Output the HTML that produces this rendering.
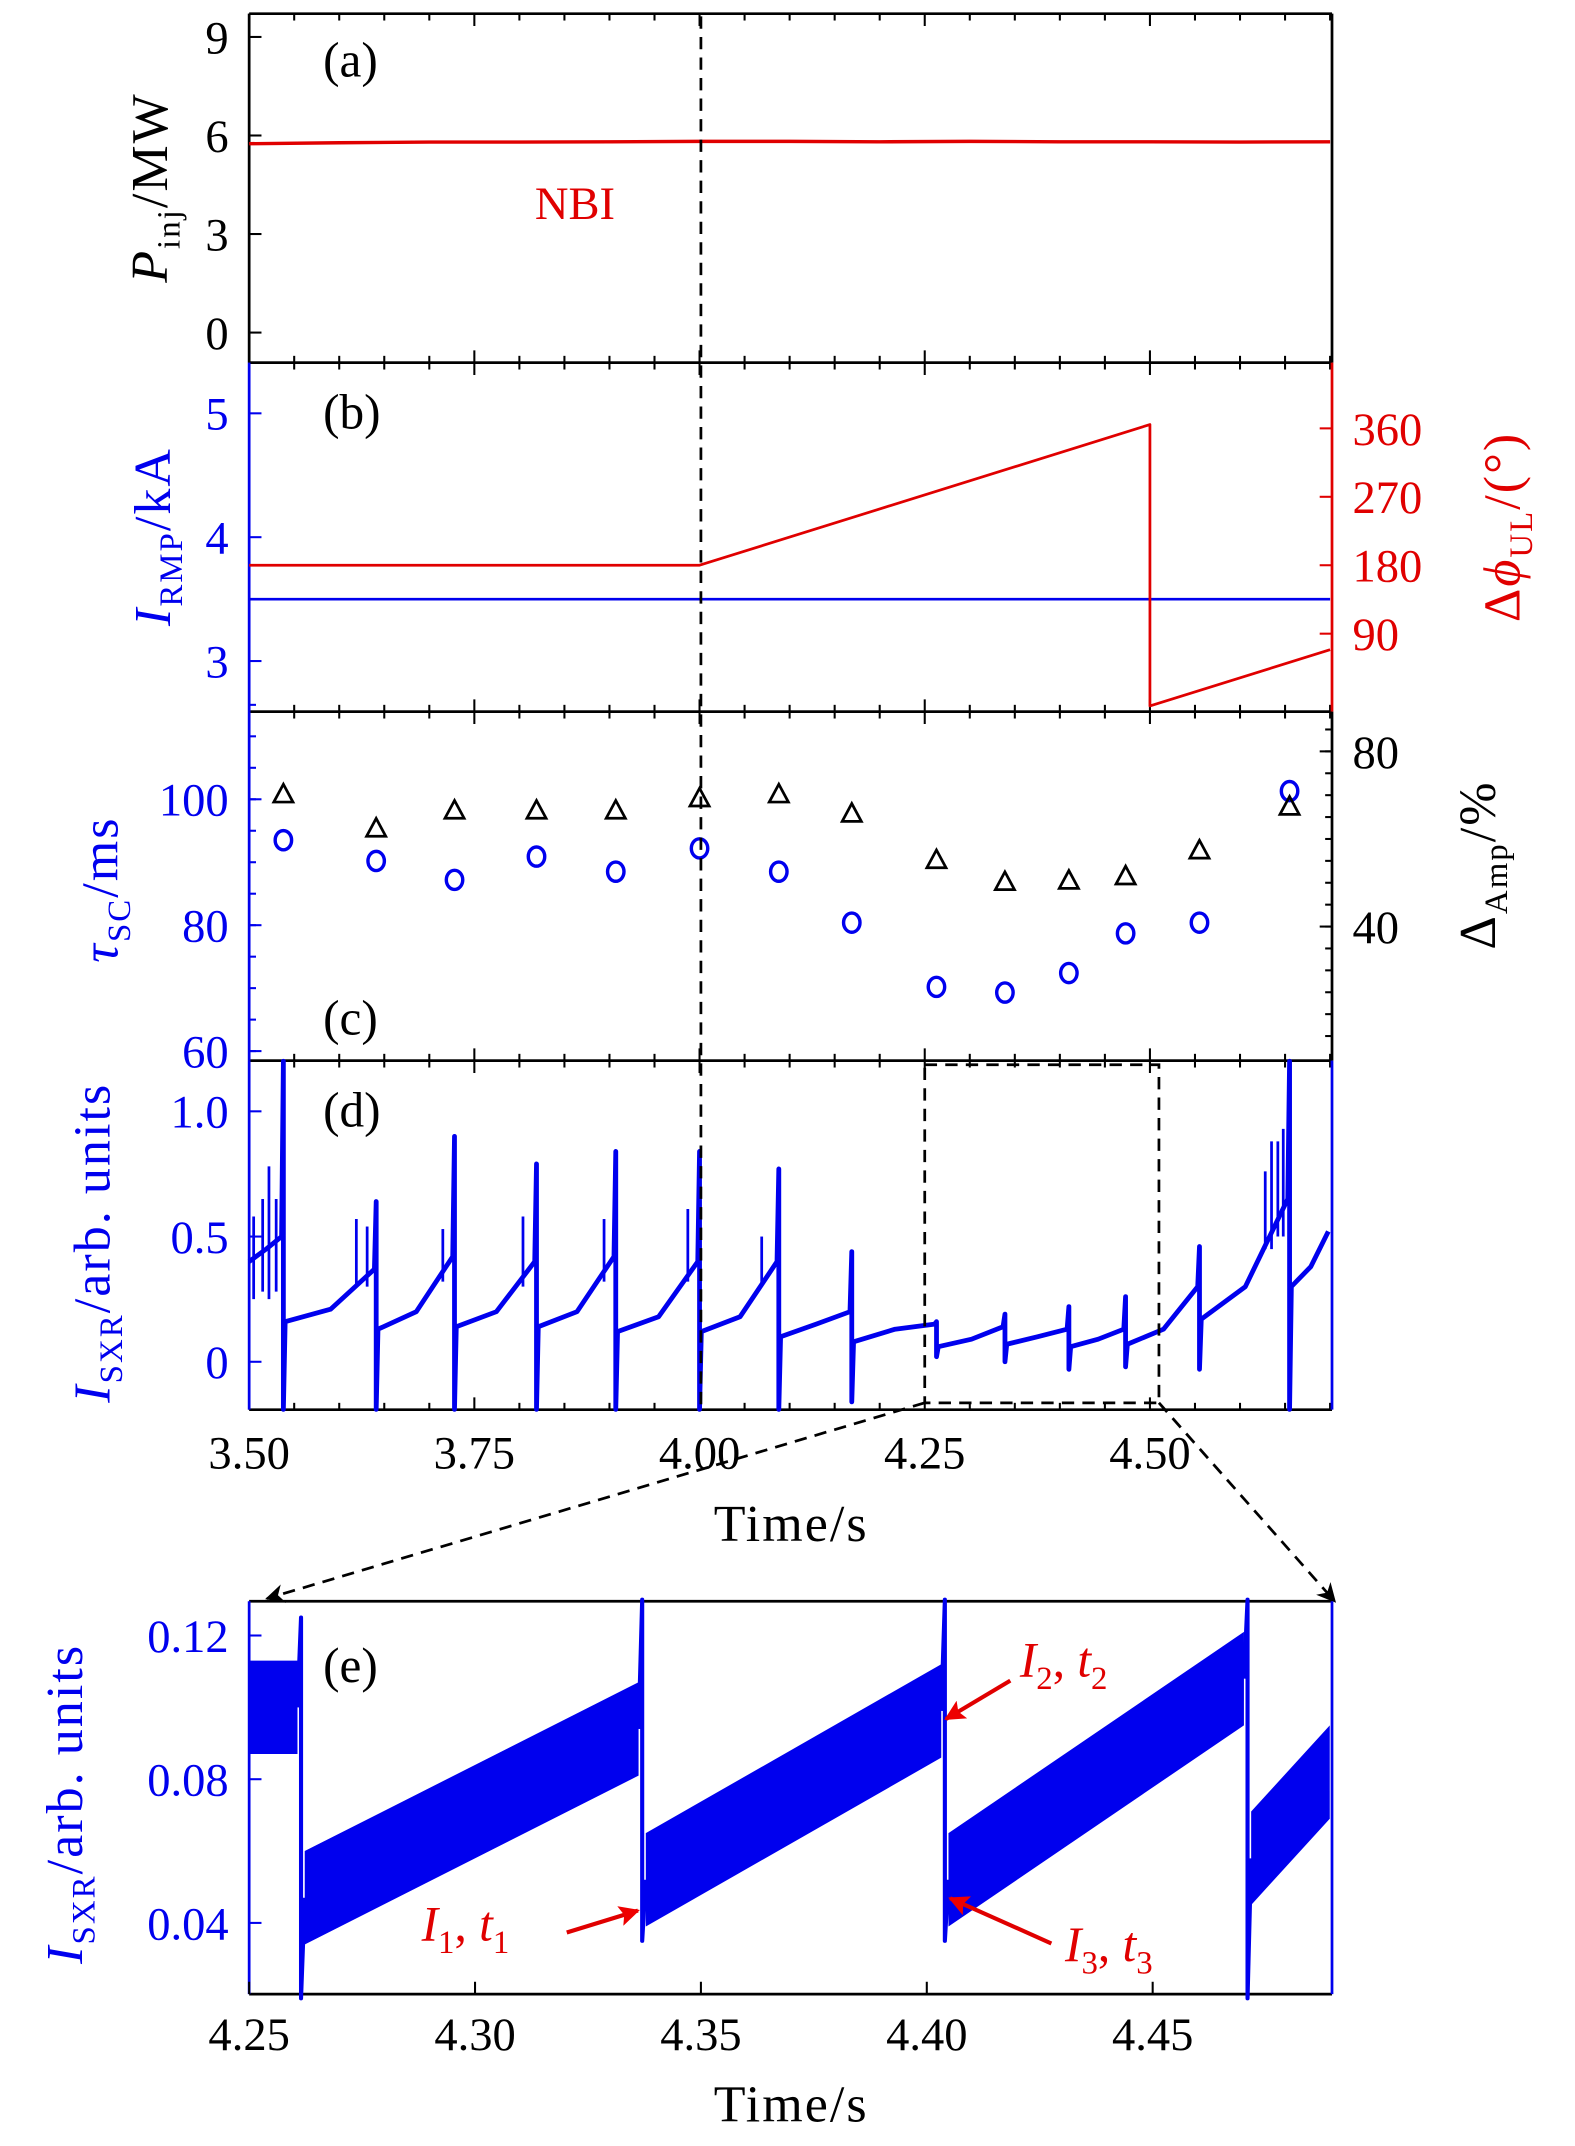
<!DOCTYPE html>
<html><head><meta charset="utf-8"><title>RMP sawtooth figure</title>
<style>html,body{margin:0;padding:0;background:#fff}svg{display:block}text{font-family:"Liberation Serif",serif}</style>
</head><body>
<svg id="fig" xmlns="http://www.w3.org/2000/svg" width="1575" height="2146" viewBox="0 0 1150.5 1568" preserveAspectRatio="none">
<defs>
<marker id="ah" viewBox="0 0 10 10" refX="9" refY="5" markerWidth="7" markerHeight="7" orient="auto"><path d="M0,0 L10,5 L0,10 L3,5 z" fill="#000"/></marker>
<marker id="ahr" viewBox="0 0 10 10" refX="9" refY="5" markerWidth="5" markerHeight="5" orient="auto"><path d="M0,0 L10,5 L0,10 L2,5 z" fill="#e00"/></marker>
</defs>
</svg>
<script>
// ---- data ----
const nbiTimes = [3.5,3.6,3.7,3.8,3.9,4.0,4.1,4.2,4.3,4.4,4.5,4.6,4.7];
const nbiPower = [5.75,5.78,5.8,5.8,5.81,5.82,5.82,5.81,5.82,5.81,5.81,5.8,5.81];
const rmpTimes = [3.5,4.7];
const rmpCurrent = [3.5,3.5];
const phaseTimes = [3.5,4.0,4.5,4.5,4.7];
const phaseValues = [180,180,365,-5,69];
const scTimes = [3.538,3.641,3.728,3.819,3.907,4.000,4.088,4.169,4.263,4.339,4.410,4.473,4.555,4.655];
const tauSC = [93.5,90.2,87.2,90.9,88.5,92.2,88.5,80.4,70.2,69.3,72.4,78.7,80.4,101.3];
const dAmp = [70.3,62.5,66.6,66.6,66.6,69.4,70.3,65.9,55.3,50.3,50.6,51.6,57.5,67.5];
const dCrash = [3.538,3.641,3.728,3.819,3.907,4.000,4.088,4.169,4.263,4.339,4.410,4.473,4.555,4.655];
const dStart = [0.40,0.16,0.13,0.14,0.14,0.12,0.12,0.10,0.08,0.06,0.07,0.06,0.07,0.17,0.30];
const dMid = [0.45,0.21,0.20,0.20,0.20,0.18,0.18,0.15,0.13,0.09,0.10,0.09,0.13,0.30,0.38];
const dEnd = [0.50,0.37,0.42,0.40,0.42,0.40,0.40,0.20,0.15,0.14,0.13,0.13,0.30,0.65,0.52];
const dPeak = [1.2,0.64,0.9,0.79,0.84,0.84,0.77,0.44,0.16,0.19,0.22,0.26,0.46,1.2];
const dMin = [-0.19,-0.19,-0.19,-0.19,-0.19,-0.19,-0.19,-0.16,0.02,0.0,-0.03,-0.02,-0.03,-0.19];
const preTimes = [3.505,3.515,3.522,3.530,3.619,3.631,3.715,3.804,3.894,3.987,4.069,4.628,4.635,4.642,4.648];
const preBase = [0.25,0.28,0.25,0.28,0.30,0.30,0.32,0.30,0.32,0.32,0.30,0.45,0.45,0.5,0.5];
const prePeak = [0.58,0.65,0.78,0.65,0.57,0.54,0.53,0.58,0.57,0.61,0.50,0.76,0.88,0.88,0.93];
const eCrash = [4.2615,4.337,4.404,4.471];
const eStart = [0.100,0.047,0.052,0.052,0.058];
const eEnd = [0.100,0.094,0.099,0.108,0.082];
const ePeak = [0.125,0.13,0.13,0.13];
const eMin = [0.019,0.035,0.035,0.019];
const xTicks = [3.50,3.75,4.00,4.25,4.50];
const eTicks = [4.25,4.30,4.35,4.40,4.45];

// ---- geometry ----
const svg = document.getElementById('fig');
const NS = 'http://www.w3.org/2000/svg';
const L = 182, R = 973;
const X = t => 182 + (t - 3.5) * 658;
const XE = t => 182 + (t - 4.25) * 3300;
const Ya = v => 243 - v * 24;
const Yb = v => 483 - (v - 3) * 90.5;
const Yb2 = v => 413 - (v - 180) * 0.5556;
const Yc = v => 768 - (v - 60) * 4.6;
const Yc2 = v => 677 - (v - 40) * 3.2;
const Yd = v => 995 - v * 183;
const Ye = v => 1405 - (v - 0.04) * 2625;
const BLUE = '#0000ee', RED = '#e00000';
const TF = 34, AF = 38;

function add(tag, attrs, name, inter) {
  const el = document.createElementNS(NS, tag);
  for (const k in attrs) el.setAttribute(k, attrs[k]);
  
  
  svg.appendChild(el);
  return el;
}
function line(x1,y1,x2,y2,c,w,name,dash){
  const a={x1,y1,x2,y2,stroke:c,'stroke-width':w};
  if(dash)a['stroke-dasharray']=dash;
  return add('line',a,name);
}
function txt(x,y,s,opts,name){
  const a=Object.assign({x,y,'font-size':TF,fill:'#000'},opts||{});
  const el=add('text',a,name);
  el.innerHTML=s;
  return el;
}
function poly(pts,c,w,name){
  return add('polyline',{points:pts.map(p=>p[0].toFixed(1)+','+p[1].toFixed(1)).join(' '),fill:'none',stroke:c,'stroke-width':w,'stroke-linejoin':'round'},name);
}
function sub(s){return `<tspan font-size="24" dy="9">${s}</tspan>`;}

// ---- panel frames ----
const panels=[[10,265],[265,520],[520,775],[775,1030]];
panels.forEach((p,i)=>{
  line(L,p[0],R,p[0],'#000',2,'panel-top-spine');
  line(L,p[1],R,p[1],'#000',2,'panel-bottom-spine');
  for(let t=3.5;t<=4.701;t+=0.05){
    const major=Math.abs((t-3.5)/0.25-Math.round((t-3.5)/0.25))<1e-6;
    const len=major?9:5;
    line(X(t),p[1],X(t),p[1]-len,'#000',1.5,'x-tick');
    line(X(t),p[0],X(t),p[0]+len,'#000',1.5,'x-tick');
  }
});
line(L,10,L,265,'#000',2,'a-left-spine'); line(R,10,R,265,'#000',2,'a-right-spine');
line(L,265,L,520,BLUE,2,'b-left-spine'); line(R,265,R,520,RED,2,'b-right-spine');
line(L,520,L,775,BLUE,2,'c-left-spine'); line(R,520,R,775,'#000',2,'c-right-spine');
line(L,775,L,1030,BLUE,2,'d-left-spine'); line(R,775,R,1030,BLUE,2,'d-right-spine');

// ---- panel a ----
[0,3,6,9].forEach(v=>{line(L,Ya(v),L+9,Ya(v),'#000',1.5,'a-y-tick');txt(167,Ya(v)+12,v,{'text-anchor':'end'},'a-y-tick-label');});
poly(nbiTimes.map((t,i)=>[X(t),Ya(nbiPower[i])]),RED,2.5,'nbi-power-line');
txt(420,160,'NBI',{fill:RED,'text-anchor':'middle'},'nbi-label');
txt(236,56,'(a)',{'font-size':36},'panel-a-label');
txt(0,0,'<tspan font-style="italic">P</tspan>'+sub('inj')+'<tspan dy="-9">/MW</tspan>',{transform:'translate(122,137) rotate(-90)','text-anchor':'middle','font-size':AF,'letter-spacing':1.5}, 'a-y-axis-title');

// ---- panel b ----
[3,4,5].forEach(v=>{line(L,Yb(v),L+9,Yb(v),BLUE,1.5,'b-y-tick');txt(167,Yb(v)+12,v,{'text-anchor':'end',fill:BLUE},'b-y-tick-label');});
[90,180,270,360].forEach(v=>{line(R,Yb2(v),R-9,Yb2(v),RED,1.5,'b-right-tick');txt(988,Yb2(v)+12,v,{fill:RED},'b-right-tick-label');});
poly(rmpTimes.map((t,i)=>[X(t),Yb(rmpCurrent[i])]),BLUE,2,'rmp-current-line');
poly(phaseTimes.map((t,i)=>[X(t),Yb2(phaseValues[i])]),RED,2,'phase-difference-line');
txt(236,313,'(b)',{'font-size':36},'panel-b-label');
txt(0,0,'<tspan font-style="italic">I</tspan>'+sub('RMP')+'<tspan dy="-9">/kA</tspan>',{transform:'translate(124,392) rotate(-90)','text-anchor':'middle',fill:BLUE,'font-size':AF,'letter-spacing':1.5},'b-y-axis-title');
txt(0,0,'Δ<tspan font-style="italic">ϕ</tspan>'+sub('UL')+'<tspan dy="-9">/(°)</tspan>',{transform:'translate(1110,385) rotate(-90)','text-anchor':'middle',fill:RED,'font-size':AF,'letter-spacing':1.5},'b-right-axis-title');

// ---- panel c ----
[60,80,100].forEach(v=>{line(L,Yc(v),L+9,Yc(v),BLUE,1.5,'c-y-tick');txt(167,Yc(v)+12,v,{'text-anchor':'end',fill:BLUE},'c-y-tick-label');});
for(let v=60;v<=115;v+=5){line(L,Yc(v),L+5,Yc(v),BLUE,1.5,'c-y-minor-tick');}
[40,80].forEach(v=>{line(R,Yc2(v),R-9,Yc2(v),'#000',1.5,'c-right-tick');txt(988,Yc2(v)+12,v,{},'c-right-tick-label');});
for(let v=15;v<=85;v+=5){line(R,Yc2(v),R-5,Yc2(v),'#000',1.5,'c-right-minor-tick');}
scTimes.forEach((t,i)=>{
  add('ellipse',{cx:X(t),cy:Yc(tauSC[i]),rx:6,ry:7,fill:'none',stroke:BLUE,'stroke-width':2.5},'tau-sc-point');
  const x=X(t),y=Yc2(dAmp[i]);
  add('polygon',{points:`${x},${y-7} ${x-7},${y+6} ${x+7},${y+6}`,fill:'none',stroke:'#000','stroke-width':2},'amp-drop-point');
});
txt(236,756,'(c)',{'font-size':36},'panel-c-label');
txt(0,0,'<tspan font-style="italic">τ</tspan>'+sub('SC')+'<tspan dy="-9">/ms</tspan>',{transform:'translate(86,650) rotate(-90)','text-anchor':'middle',fill:BLUE,'font-size':AF,'letter-spacing':1.5},'c-y-axis-title');
txt(0,0,'Δ'+sub('Amp')+'<tspan dy="-9">/%</tspan>',{transform:'translate(1092,632) rotate(-90)','text-anchor':'middle','font-size':AF,'letter-spacing':1.5},'c-right-axis-title');

// ---- panel d ----
[[0,'0'],[0.5,'0.5'],[1.0,'1.0']].forEach(v=>{line(L,Yd(v[0]),L+9,Yd(v[0]),BLUE,1.5,'d-y-tick');txt(167,Yd(v[0])+12,v[1],{'text-anchor':'end',fill:BLUE},'d-y-tick-label');});
{
  const pts=[];
  const bounds=[3.5].concat(dCrash).concat([4.7]);
  for(let s=0;s<bounds.length-1;s++){
    const t0=bounds[s],t1=bounds[s+1];
    const a=s===0?t0:t0+0.002;
    pts.push([X(a),Yd(dStart[s])]);
    pts.push([X((a+t1)/2),Yd(dMid[s])]);
    pts.push([X(t1-0.002),Yd(dEnd[s])]);
    if(s<dCrash.length){
      pts.push([X(t1),Yd(dPeak[s])]);
      pts.push([X(t1),Yd(dMin[s])]);
    }
  }
  poly(pts,BLUE,3.5,'sxr-signal-trace');
  preTimes.forEach((t,i)=>line(X(t),Yd(preBase[i]),X(t),Yd(prePeak[i]),BLUE,2,'sxr-precursor-spike'));
}
txt(236,823,'(d)',{'font-size':36},'panel-d-label');
xTicks.forEach(t=>txt(X(t),1073,t.toFixed(2),{'text-anchor':'middle'},'d-x-tick-label'));
txt(578,1126,'Time/s',{'text-anchor':'middle','font-size':AF,'letter-spacing':1.5},'d-x-axis-title');
txt(0,0,'<tspan font-style="italic">I</tspan>'+sub('SXR')+'<tspan dy="-9">/arb. units</tspan>',{transform:'translate(80,908) rotate(-90)','text-anchor':'middle',fill:BLUE,'font-size':AF,'letter-spacing':1.5},'d-y-axis-title');

add('rect',{x:X(4.25),y:778,width:X(4.51)-X(4.25),height:247,fill:'none',stroke:'#000','stroke-width':2,'stroke-dasharray':'9,6'},'zoom-region-box');
line(X(4.25),1025,195,1168,'#000',2,'zoom-connector-left','9,6').setAttribute('marker-end','url(#ah)');
line(X(4.51),1025,975,1170,'#000',2,'zoom-connector-right','9,6').setAttribute('marker-end','url(#ah)');
line(512,12,512,1030,'#000',2,'time-marker-4s','9,6');

// ---- panel e ----
line(L,1170,R,1170,'#000',2,'e-top-spine');
line(L,1457,R,1457,'#000',2,'e-bottom-spine');
line(L,1170,L,1457,BLUE,2,'e-left-spine');
line(R,1170,R,1457,BLUE,2,'e-right-spine');
eTicks.forEach(t=>{line(XE(t),1457,XE(t),1448,'#000',1.5,'e-x-tick');txt(XE(t),1498,t.toFixed(2),{'text-anchor':'middle'},'e-x-tick-label');});
[[0.04,'0.04'],[0.08,'0.08'],[0.12,'0.12']].forEach(v=>{line(L,Ye(v[0]),L+9,Ye(v[0]),BLUE,1.5,'e-y-tick');txt(167,Ye(v[0])+12,v[1],{'text-anchor':'end',fill:BLUE},'e-y-tick-label');});
{
  const bounds=[4.25].concat(eCrash).concat([4.49]);
  for(let s=0;s<bounds.length-1;s++){
    const a=s===0?bounds[s]:bounds[s]+0.0008, b=bounds[s+1]-0.0008;
    add('polygon',{points:`${XE(a)},${Ye(eStart[s]+0.013)} ${XE(b)},${Ye(eEnd[s]+0.013)} ${XE(b)},${Ye(eEnd[s]-0.013)} ${XE(a)},${Ye(eStart[s]-0.013)}`,fill:BLUE},'sxr-zoom-band');
    if(s<eCrash.length){
      poly([[XE(b),Ye(eEnd[s])],[XE(bounds[s+1]),Ye(ePeak[s])],[XE(bounds[s+1]),Ye(eMin[s])],[XE(bounds[s+1]+0.0008),Ye(eStart[s+1])]],BLUE,3,'sxr-zoom-crash');
    }
  }
}
txt(236,1229,'(e)',{'font-size':36},'panel-e-label');
txt(578,1550,'Time/s',{'text-anchor':'middle','font-size':AF,'letter-spacing':1.5},'e-x-axis-title');
txt(0,0,'<tspan font-style="italic">I</tspan>'+sub('SXR')+'<tspan dy="-9">/arb. units</tspan>',{transform:'translate(60,1318) rotate(-90)','text-anchor':'middle',fill:BLUE,'font-size':AF,'letter-spacing':1.5},'e-y-axis-title');
txt(308,1418,'<tspan font-style="italic">I</tspan>'+sub('1')+'<tspan dy="-9">, </tspan><tspan font-style="italic">t</tspan>'+sub('1'),{fill:RED,'font-size':36},'i1-t1-label');
line(414,1412,466,1396,RED,3,'i1-arrow').setAttribute('marker-end','url(#ahr)');
txt(745,1225,'<tspan font-style="italic">I</tspan>'+sub('2')+'<tspan dy="-9">, </tspan><tspan font-style="italic">t</tspan>'+sub('2'),{fill:RED,'font-size':36},'i2-t2-label');
line(738,1228,691,1256,RED,3,'i2-arrow').setAttribute('marker-end','url(#ahr)');
txt(778,1433,'<tspan font-style="italic">I</tspan>'+sub('3')+'<tspan dy="-9">, </tspan><tspan font-style="italic">t</tspan>'+sub('3'),{fill:RED,'font-size':36},'i3-t3-label');
line(768,1420,694,1387,RED,3,'i3-arrow').setAttribute('marker-end','url(#ahr)');
</script>
</body></html>
